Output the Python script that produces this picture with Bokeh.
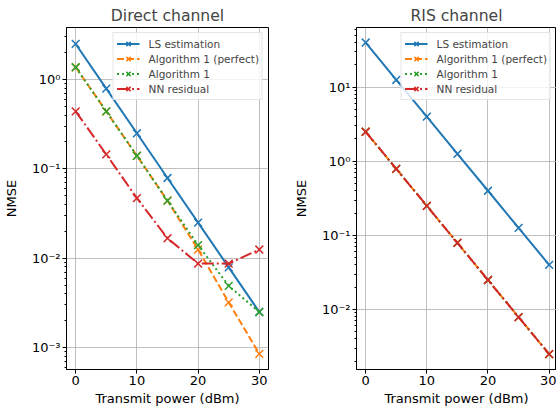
from bokeh.plotting import figure
from bokeh.layouts import row
from bokeh.models import Range1d, FixedTicker, CustomJSTickFormatter, Legend, LegendItem
from bokeh.embed import file_html
from bokeh.resources import INLINE

# ---------------- data ----------------
power_dbm = [0, 5, 10, 15, 20, 25, 30]
series_names = ["LS estimation", "Algorithm 1 (perfect)", "Algorithm 1", "NN residual"]

direct_ls = [2.5, 0.79, 0.25, 0.079, 0.025, 0.0079, 0.0025]
direct_alg1_perfect = [1.37, 0.44, 0.14, 0.044, 0.0125, 0.0032, 0.00085]
direct_alg1 = [1.37, 0.44, 0.14, 0.044, 0.014, 0.0049, 0.0025]
direct_nn = [0.44, 0.145, 0.047, 0.0167, 0.0087, 0.0087, 0.0125]

ris_ls = [40.0, 12.5, 4.0, 1.26, 0.40, 0.126, 0.040]
ris_alg1_perfect = [2.5, 0.79, 0.25, 0.079, 0.025, 0.0079, 0.0025]
ris_alg1 = [2.5, 0.79, 0.25, 0.079, 0.025, 0.0079, 0.0025]
ris_nn = [2.5, 0.79, 0.25, 0.079, 0.025, 0.0079, 0.0025]

x_ticks = [0, 10, 20, 30]
direct_y_ticks = [1e-3, 1e-2, 1e-1, 1e0]
ris_y_ticks = [1e-2, 1e-1, 1e0, 1e1]

# ---------------- styles ----------------
colors = ["#1f77b4", "#ff7f0e", "#2ca02c", "#d62728"]
dashes = ["solid", "7 3", "2 3", "12 3 2 3"]
FONT = "DejaVu Sans"

sup_js = """
const sup = {'-':'\u207b','0':'\u2070','1':'\u00b9','2':'\u00b2','3':'\u00b3','4':'\u2074','5':'\u2075','6':'\u2076','7':'\u2077','8':'\u2078','9':'\u2079'};
const e = Math.round(Math.log10(tick));
return '10' + String(e).split('').map(c => sup[c]).join('');
"""


def minor_ticks_for(major):
    out = []
    for m in major:
        for k in range(2, 10):
            out.append(m * k / 10.0)
            out.append(m * k)
    return sorted(set(out))


def make_panel(title, ys, y_rng, y_major, x_rng, width, left, right):
    p = figure(width=width, height=410, y_axis_type="log",
               x_range=Range1d(*x_rng), y_range=Range1d(*y_rng),
               output_backend="svg", toolbar_location=None,
               min_border_left=left, min_border_right=right,
               min_border_top=27, min_border_bottom=41)
    p.title.text = title
    p.title.align = "center"
    p.title.text_font = FONT
    p.title.text_font_size = "15.6px"
    p.title.text_font_style = "normal"
    p.title.standoff = 6

    p.xaxis.ticker = FixedTicker(ticks=x_ticks)
    p.yaxis.ticker = FixedTicker(ticks=y_major, minor_ticks=minor_ticks_for(y_major))
    p.yaxis.formatter = CustomJSTickFormatter(code=sup_js)
    p.xaxis.axis_label = "Transmit power (dBm)"
    p.yaxis.axis_label = "NMSE"
    for ax in p.axis:
        ax.axis_label_text_font = FONT
        ax.axis_label_text_font_size = "13px"
        ax.axis_label_text_font_style = "normal"
        ax.major_label_text_font = FONT
        ax.major_label_text_font_size = "13px"
        ax.major_label_text_color = "black"
        ax.axis_label_text_color = "black"
        ax.axis_line_color = "black"
        ax.major_tick_line_color = "black"
        ax.minor_tick_line_color = "black"
        ax.major_tick_in = 0
        ax.major_tick_out = 4
        ax.minor_tick_in = 0
        ax.minor_tick_out = 2
        ax.major_label_standoff = 2
        ax.axis_label_standoff = 3
    p.xaxis.minor_tick_out = 0
    p.yaxis.axis_label_standoff = 10

    p.xgrid.ticker = FixedTicker(ticks=x_ticks)
    p.ygrid.ticker = FixedTicker(ticks=y_major)
    p.grid.grid_line_color = "#b0b0b0"
    p.grid.grid_line_width = 0.8
    p.outline_line_color = "black"
    p.outline_line_width = 1
    p.outline_line_alpha = 1

    items = []
    for name, y, c, d in zip(series_names, ys, colors, dashes):
        lr = p.line(power_dbm, y, line_color=c, line_width=2, line_dash=d)
        sr = p.scatter(power_dbm, y, marker="x", size=11, line_color=c, line_width=1.5)
        items.append(LegendItem(label=name, renderers=[lr, sr]))
    leg = Legend(items=items, location="top_right")
    leg.label_text_font = FONT
    leg.label_text_font_size = "10.5px"
    leg.padding = 3
    leg.margin = 5
    leg.spacing = 0
    leg.glyph_height = 15
    leg.label_height = 15
    leg.glyph_width = 23
    leg.label_standoff = 9
    leg.border_line_color = "#cccccc"
    leg.background_fill_alpha = 0.8
    p.add_layout(leg)
    return p


p1 = make_panel("Direct channel",
                [direct_ls, direct_alg1_perfect, direct_alg1, direct_nn],
                (10 ** -3.246, 10 ** 0.582), direct_y_ticks, (-1.5, 31.5), 290, 63, 22)
p2 = make_panel("RIS channel",
                [ris_ls, ris_alg1_perfect, ris_alg1, ris_nn],
                (10 ** -2.81, 10 ** 1.805), ris_y_ticks, (-1.5, 31.2), 266, 63, 0)

p = row(p1, p2)
open("out.html", "w").write(file_html(p, INLINE))
